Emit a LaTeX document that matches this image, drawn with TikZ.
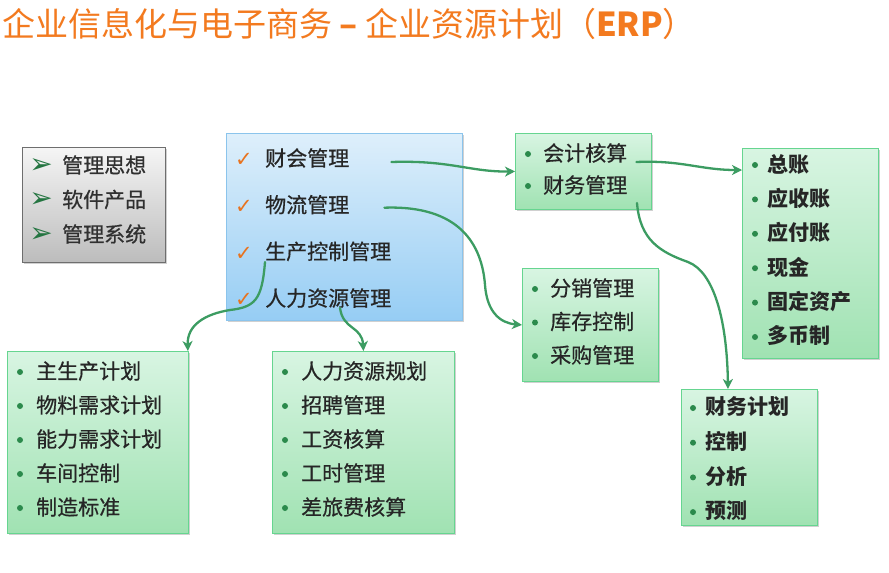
\documentclass[tikz,border=0pt]{standalone}
\usepackage{fontspec}
\setmainfont{Noto Sans CJK SC}
\newfontfamily\itemfont[FakeBold=0.6]{Noto Sans CJK SC}
\newfontfamily\symfont{DejaVu Sans}
\usetikzlibrary{shadows,arrows.meta,calc}

\definecolor{titleorange}{HTML}{F37A1F}
\definecolor{linkgreen}{HTML}{3C9C62}
\definecolor{dotgreen}{HTML}{2B8A4C}
\definecolor{tickorange}{HTML}{E8731F}
\definecolor{ink}{HTML}{262626}
\definecolor{greytext}{HTML}{303030}

\tikzset{
  panel/.style={anchor=north west, inner sep=0pt, line width=0.9pt,
    drop shadow={shadow xshift=2pt, shadow yshift=-2pt, opacity=0.3, fill=black!60}},
  greenpanel/.style={panel, draw=green!45!teal!60!white, top color=green!8!white!92!teal,
    bottom color={rgb,255:red,160;green,226;blue,178}},
  bluepanel/.style={panel, draw={rgb,255:red,139;green,196;blue,236},
    top color={rgb,255:red,222;green,239;blue,251}, bottom color={rgb,255:red,150;green,205;blue,244}},
  greypanel/.style={panel, draw={rgb,255:red,110;green,110;blue,110},
    top color={rgb,255:red,245;green,245;blue,245}, bottom color={rgb,255:red,188;green,188;blue,188}},
  item/.style={anchor=west, inner sep=0pt, text=ink, font=\itemfont\fontsize{21}{24}\selectfont},
  bolditem/.style={anchor=west, inner sep=0pt, text=ink, font=\fontsize{21}{24}\selectfont\bfseries},
  dot/.style={circle, inner sep=0pt, minimum size=6pt, fill=dotgreen},
  tick/.style={inner sep=0pt, text=tickorange, font=\symfont\fontsize{21}{22}\selectfont},
  chevron/.style={inner sep=0pt, text=dotgreen!85!black, font=\symfont\fontsize{28}{30}\selectfont},
  link/.style={draw=linkgreen, line width=2.3pt, line cap=round,
    -{Stealth[length=10pt,width=10pt,inset=3pt]}},
}

\begin{document}
\begin{tikzpicture}[x=1pt,y=-1pt]
\useasboundingbox (0,0) rectangle (889,573);
\fill[white] (0,0) rectangle (889,573);

% heading
\node[anchor=west, inner sep=0pt, text=titleorange, font=\fontsize{33}{36}\selectfont]
  (title) at (2,24) {企业信息化与电子商务 \textbf{–} 企业资源计划（\textbf{ERP}）};

% panels
\node[greypanel,  minimum width=143pt, minimum height=115pt] (concept) at (22,147) {};
\node[bluepanel,  minimum width=236pt, minimum height=187pt] (modules) at (226,133) {};
\node[greenpanel, minimum width=136pt, minimum height=76pt]  (acct)    at (515,133) {};
\node[greenpanel, minimum width=136pt, minimum height=210pt] (ledger)  at (742,148) {};
\node[greenpanel, minimum width=136pt, minimum height=113pt] (stock)   at (522,268) {};
\node[greenpanel, minimum width=181pt, minimum height=182pt] (prod)    at (7,351) {};
\node[greenpanel, minimum width=182pt, minimum height=182pt] (hr)      at (272,351) {};
\node[greenpanel, minimum width=136pt, minimum height=136pt] (fin)     at (681,389) {};

% grey panel: three aspects
\foreach \t [count=\i] in {管理思想,软件产品,管理系统} {
  \node[chevron] (cv\i) at (41,{166+34.5*(\i-1)}) {➢};
  \node[item, text=greytext] (cp\i) at (62,{165+34.5*(\i-1)}) {\t};
}

% blue panel: main modules
\foreach \t [count=\i] in {财会管理,物流管理,生产控制管理,人力资源管理} {
  \node[tick] (tk\i) at (244,{160+46.7*(\i-1)}) {✓};
  \node[item] (md\i) at (265,{158+46.7*(\i-1)}) {\t};
}

% accounting
\foreach \t [count=\i] in {会计核算,财务管理} {
  \node[dot] (ad\i) at (528,{154+32*(\i-1)}) {};
  \node[item] (ac\i) at (543,{153+32*(\i-1)}) {\t};
}

% ledger
\foreach \t [count=\i] in {总账,应收账,应付账,现金,固定资产,多币制} {
  \node[dot] (ld\i) at (755,{165+34.4*(\i-1)}) {};
  \node[bolditem] (lg\i) at (767,{164+34.4*(\i-1)}) {\t};
}

% logistics
\foreach \t [count=\i] in {分销管理,库存控制,采购管理} {
  \node[dot] (sd\i) at (535,{289+33.5*(\i-1)}) {};
  \node[item] (st\i) at (550,{288+33.5*(\i-1)}) {\t};
}

% production
\foreach \t [count=\i] in {主生产计划,物料需求计划,能力需求计划,车间控制,制造标准} {
  \node[dot] (pd\i) at (20,{372+34*(\i-1)}) {};
  \node[item] (pr\i) at (36,{371+34*(\i-1)}) {\t};
}

% human resources
\foreach \t [count=\i] in {人力资源规划,招聘管理,工资核算,工时管理,差旅费核算} {
  \node[dot] (hd\i) at (285,{372+34*(\i-1)}) {};
  \node[item] (hm\i) at (301,{371+34*(\i-1)}) {\t};
}

% finance planning
\foreach \t [count=\i] in {财务计划,控制,分析,预测} {
  \node[dot] (fd\i) at (693,{408+34.7*(\i-1)}) {};
  \node[bolditem] (fn\i) at (705,{407+34.7*(\i-1)}) {\t};
}

% connector start points
\coordinate (s1) at ($(md1.east)+(42,4)$);
\coordinate (s2) at ($(md2.east)+(35,3)$);
\coordinate (s3) at (265,262);
\coordinate (s4) at (340,308);
\coordinate (s5) at ($(ac1.east)+(9,9)$);
\coordinate (s6) at (637,203);

\draw[link] (s1) .. controls (450,160) and (470,172) .. (acct.west);
\draw[link] (s2) .. controls (460,205) and (482,245) .. (485,285)
                 .. controls (487,312) and (500,323) .. (stock.west);
\draw[link] (s3) .. controls (262,300) and (255,307) .. (230,310)
                 .. controls (205,314) and (187,325) .. ([xshift=-1pt]prod.north east);
\draw[link] (s4) .. controls (343,330) and (362,326) .. (hr.north);
\draw[link] (s5) .. controls (682,160) and (700,170) .. ($(ledger.north west)+(0,22)$);
\draw[link] (s6) .. controls (640,240) and (660,252) .. (688,262)
                 .. controls (714,272) and (727,320) .. ($(fin.north west)+(47,0)$);
\end{tikzpicture}
\end{document}
